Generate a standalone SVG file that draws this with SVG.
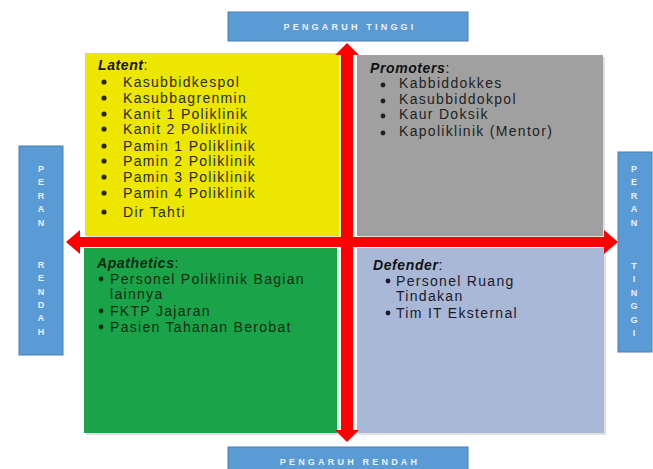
<svg xmlns="http://www.w3.org/2000/svg" width="653" height="469" viewBox="0 0 653 469">
<style>
.lbl{fill:#5B9BD5;stroke:#4A7FB5;stroke-width:1}
.lt{font-family:"Liberation Sans",Arial,sans-serif;font-weight:bold;font-size:9px;fill:#EAF2FB;text-anchor:middle;letter-spacing:3.2px}
.vt{font-family:"Liberation Sans",Arial,sans-serif;font-weight:bold;font-size:9px;fill:#EAF2FB;text-anchor:middle}
.t{font-family:"Liberation Sans",Arial,sans-serif;font-size:14px;letter-spacing:1.3px}
.h{font-family:"Liberation Sans",Arial,sans-serif;font-size:14px;font-weight:bold;font-style:italic;letter-spacing:0.6px}
.shadow{fill:#000;opacity:0.12}
</style>
<rect width="653" height="469" fill="#FFFFFF"/>

<g id="label-top">
<rect class="lbl" x="228" y="12" width="240" height="29"/>
<text class="lt" x="350" y="30">PENGARUH TINGGI</text>
</g>
<g id="label-bottom">
<rect class="lbl" x="228" y="447" width="240" height="30"/>
<text class="lt" x="350" y="465">PENGARUH RENDAH</text>
</g>
<g id="label-left">
<rect class="lbl" x="19" y="146" width="44" height="209"/>
<text class="vt" x="41"><tspan x="41" y="172">P</tspan><tspan x="41" y="185">E</tspan><tspan x="41" y="199">R</tspan><tspan x="41" y="212">A</tspan><tspan x="41" y="226">N</tspan><tspan x="41" y="268">R</tspan><tspan x="41" y="281">E</tspan><tspan x="41" y="295">N</tspan><tspan x="41" y="308">D</tspan><tspan x="41" y="321">A</tspan><tspan x="41" y="335">H</tspan></text>
</g>
<g id="label-right">
<rect class="lbl" x="618" y="152" width="34" height="200"/>
<text class="vt" x="634"><tspan x="634" y="172">P</tspan><tspan x="634" y="185">E</tspan><tspan x="634" y="199">R</tspan><tspan x="634" y="212">A</tspan><tspan x="634" y="226">N</tspan><tspan x="634" y="269">T</tspan><tspan x="634" y="282">I</tspan><tspan x="634" y="296">N</tspan><tspan x="634" y="309">G</tspan><tspan x="634" y="323">G</tspan><tspan x="634" y="336">I</tspan></text>
</g>

<g id="latent">
<rect class="shadow" x="87" y="55" width="254" height="183"/>
<rect x="85" y="53" width="254" height="183" fill="#EDE600"/>
<text class="h" x="98" y="70" fill="#111">Latent<tspan font-weight="normal" font-style="normal">:</tspan></text>
<g fill="#2A2A00">
<circle cx="104" cy="82" r="2.6"/><circle cx="104" cy="98" r="2.6"/><circle cx="104" cy="114" r="2.6"/><circle cx="104" cy="129" r="2.6"/><circle cx="104" cy="146" r="2.6"/><circle cx="104" cy="161" r="2.6"/><circle cx="104" cy="177" r="2.6"/><circle cx="104" cy="193" r="2.6"/><circle cx="104" cy="212" r="2.6"/>
<g class="t">
<text x="123" y="87">Kasubbidkespol</text>
<text x="123" y="103">Kasubbagrenmin</text>
<text x="123" y="119">Kanit 1 Poliklinik</text>
<text x="123" y="134">Kanit 2 Poliklinik</text>
<text x="123" y="151">Pamin 1 Poliklinik</text>
<text x="123" y="166">Pamin 2 Poliklinik</text>
<text x="123" y="182">Pamin 3 Poliklinik</text>
<text x="123" y="198">Pamin 4 Poliklinik</text>
<text x="123" y="217">Dir Tahti</text>
</g>
</g>
</g>

<g id="promoters">
<rect class="shadow" x="359" y="57" width="246" height="181"/>
<rect x="357" y="55" width="246" height="181" fill="#A0A0A0"/>
<text class="h" x="370" y="73" fill="#111">Promoters<tspan font-weight="normal" font-style="normal">:</tspan></text>
<g fill="#222">
<circle cx="383" cy="85" r="2.4"/><circle cx="383" cy="101" r="2.4"/><circle cx="383" cy="116" r="2.4"/><circle cx="383" cy="133" r="2.4"/>
<g class="t">
<text x="399" y="88">Kabbiddokkes</text>
<text x="399" y="104">Kasubbiddokpol</text>
<text x="399" y="119">Kaur Doksik</text>
<text x="399" y="136">Kapoliklinik (Mentor)</text>
</g>
</g>
</g>

<g id="apathetics">
<rect class="shadow" x="86" y="250" width="253" height="185"/>
<rect x="84" y="248" width="253" height="185" fill="#1BA34A"/>
<text class="h" x="97" y="268" fill="#0A2A10">Apathetics<tspan font-weight="normal" font-style="normal">:</tspan></text>
<g fill="#0A2A10">
<circle cx="101" cy="279" r="2.4"/><circle cx="101" cy="311" r="2.4"/><circle cx="101" cy="327" r="2.4"/>
<g class="t">
<text x="110" y="284">Personel Poliklinik Bagian</text>
<text x="110" y="299">lainnya</text>
<text x="110" y="316">FKTP Jajaran</text>
<text x="110" y="332">Pasien Tahanan Berobat</text>
</g>
</g>
</g>

<g id="defender">
<rect class="shadow" x="359" y="250" width="247" height="185"/>
<rect x="357" y="248" width="247" height="185" fill="#A9B8D6"/>
<text class="h" x="373" y="270" fill="#111">Defender<tspan font-weight="normal" font-style="normal">:</tspan></text>
<g fill="#1A1A2A">
<circle cx="388" cy="281" r="2.4"/><circle cx="388" cy="313" r="2.4"/>
<g class="t">
<text x="396" y="286">Personel Ruang</text>
<text x="396" y="301">Tindakan</text>
<text x="396" y="318">Tim IT Eksternal</text>
</g>
</g>
</g>

<g id="connectors" fill="#FF0000">
<polygon points="347,43 359,55 353,55 353,430 359,430 347,442 335,430 341,430 341,55 335,55"/>
<polygon points="66,242 80,230 80,237 604,237 604,230 618,242 604,254 604,247 80,247 80,254"/>
</g>
</svg>
